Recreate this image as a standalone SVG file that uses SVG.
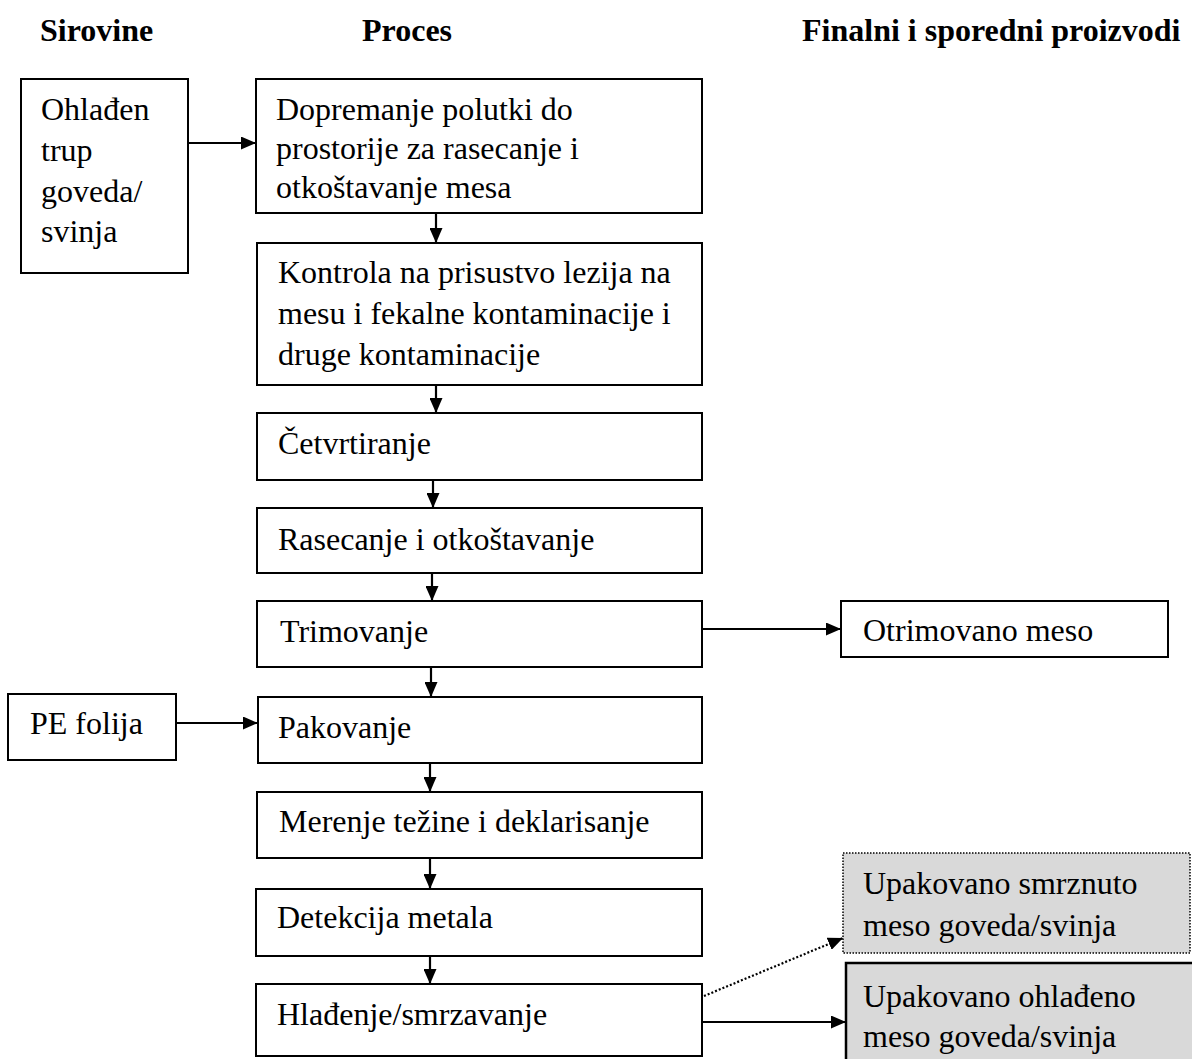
<svg xmlns="http://www.w3.org/2000/svg" width="1192" height="1059" viewBox="0 0 1192 1059">
<style>
text{font-family:"Liberation Serif","Times New Roman",serif;font-size:32px;fill:#000}
.h{font-weight:bold}
.box{fill:#fff;stroke:#000;stroke-width:2}
.gray{fill:#d9d9d9;stroke:#000;stroke-width:2.5}
.dot{fill:#d9d9d9;stroke:#000;stroke-width:1.5;stroke-dasharray:1.5 1.5}
.c{stroke:#000;stroke-width:2.2;fill:none}
.cd{stroke:#000;stroke-width:2.2;fill:none;stroke-dasharray:2 2}
</style>
<defs>
<marker id="ah" viewBox="0 0 15 13" markerWidth="15" markerHeight="13" refX="15" refY="6.5" orient="auto" markerUnits="userSpaceOnUse">
<path d="M0,0 L15,6.5 L0,13 z" fill="#000"/>
</marker>
</defs>
<rect width="1192" height="1059" fill="#fff"/>
<g id="headers">
<text class="h" x="40" y="41">Sirovine</text>
<text class="h" x="362" y="41">Proces</text>
<text class="h" x="802" y="41">Finalni i sporedni proizvodi</text>
</g>
<g id="connectors">
<line class="c" x1="188" y1="143" x2="256" y2="143" marker-end="url(#ah)"/>
<line class="c" x1="436" y1="213" x2="436" y2="243" marker-end="url(#ah)"/>
<line class="c" x1="436" y1="385" x2="436" y2="413" marker-end="url(#ah)"/>
<line class="c" x1="433" y1="480" x2="433" y2="508" marker-end="url(#ah)"/>
<line class="c" x1="432" y1="573" x2="432" y2="601" marker-end="url(#ah)"/>
<line class="c" x1="431" y1="667" x2="431" y2="697" marker-end="url(#ah)"/>
<line class="c" x1="430" y1="763" x2="430" y2="792" marker-end="url(#ah)"/>
<line class="c" x1="430" y1="858" x2="430" y2="889" marker-end="url(#ah)"/>
<line class="c" x1="430" y1="956" x2="430" y2="984" marker-end="url(#ah)"/>
<line class="c" x1="702" y1="629" x2="841" y2="629" marker-end="url(#ah)"/>
<line class="c" x1="176" y1="723" x2="258" y2="723" marker-end="url(#ah)"/>
<line class="cd" x1="704" y1="996" x2="843" y2="938" marker-end="url(#ah)"/>
<line class="c" x1="702" y1="1022" x2="846" y2="1022" marker-end="url(#ah)"/>
</g>
<g id="n-ohladjen">
<rect class="box" x="21" y="79" width="167" height="194"/>
<text x="41" y="120">Ohlađen</text>
<text x="41" y="161">trup</text>
<text x="41" y="202">goveda/</text>
<text x="41" y="242">svinja</text>
</g>
<g id="n-dopremanje">
<rect class="box" x="256" y="79" width="446" height="134"/>
<text x="276" y="120">Dopremanje polutki do</text>
<text x="276" y="159">prostorije za rasecanje i</text>
<text x="276" y="198">otkoštavanje mesa</text>
</g>
<g id="n-kontrola">
<rect class="box" x="257" y="243" width="445" height="142"/>
<text x="278" y="283">Kontrola na prisustvo lezija na</text>
<text x="278" y="324">mesu i fekalne kontaminacije i</text>
<text x="278" y="365">druge kontaminacije</text>
</g>
<g id="n-cetvrtiranje">
<rect class="box" x="257" y="413" width="445" height="67"/>
<text x="278" y="454">Četvrtiranje</text>
</g>
<g id="n-rasecanje">
<rect class="box" x="257" y="508" width="445" height="65"/>
<text x="278" y="550">Rasecanje i otkoštavanje</text>
</g>
<g id="n-trimovanje">
<rect class="box" x="257" y="601" width="445" height="66"/>
<text x="280" y="642">Trimovanje</text>
</g>
<g id="n-otrimovano">
<rect class="box" x="841" y="601" width="327" height="56"/>
<text x="863" y="641">Otrimovano meso</text>
</g>
<g id="n-pefolija">
<rect class="box" x="8" y="694" width="168" height="66"/>
<text x="30" y="734">PE folija</text>
</g>
<g id="n-pakovanje">
<rect class="box" x="258" y="697" width="444" height="66"/>
<text x="278" y="738">Pakovanje</text>
</g>
<g id="n-merenje">
<rect class="box" x="257" y="792" width="445" height="66"/>
<text x="279" y="832">Merenje težine i deklarisanje</text>
</g>
<g id="n-detekcija">
<rect class="box" x="256" y="889" width="446" height="67"/>
<text x="277" y="928">Detekcija metala</text>
</g>
<g id="n-hladjenje">
<rect class="box" x="256" y="984" width="446" height="72"/>
<text x="277" y="1025">Hlađenje/smrzavanje</text>
</g>
<g id="n-smrznuto">
<rect class="dot" x="843" y="853" width="347" height="100"/>
<text x="863" y="894">Upakovano smrznuto</text>
<text x="863" y="936">meso goveda/svinja</text>
</g>
<g id="n-ohladjeno">
<rect class="gray" x="846" y="963" width="360" height="110"/>
<text x="863" y="1007">Upakovano ohlađeno</text>
<text x="863" y="1047">meso goveda/svinja</text>
</g>
</svg>
